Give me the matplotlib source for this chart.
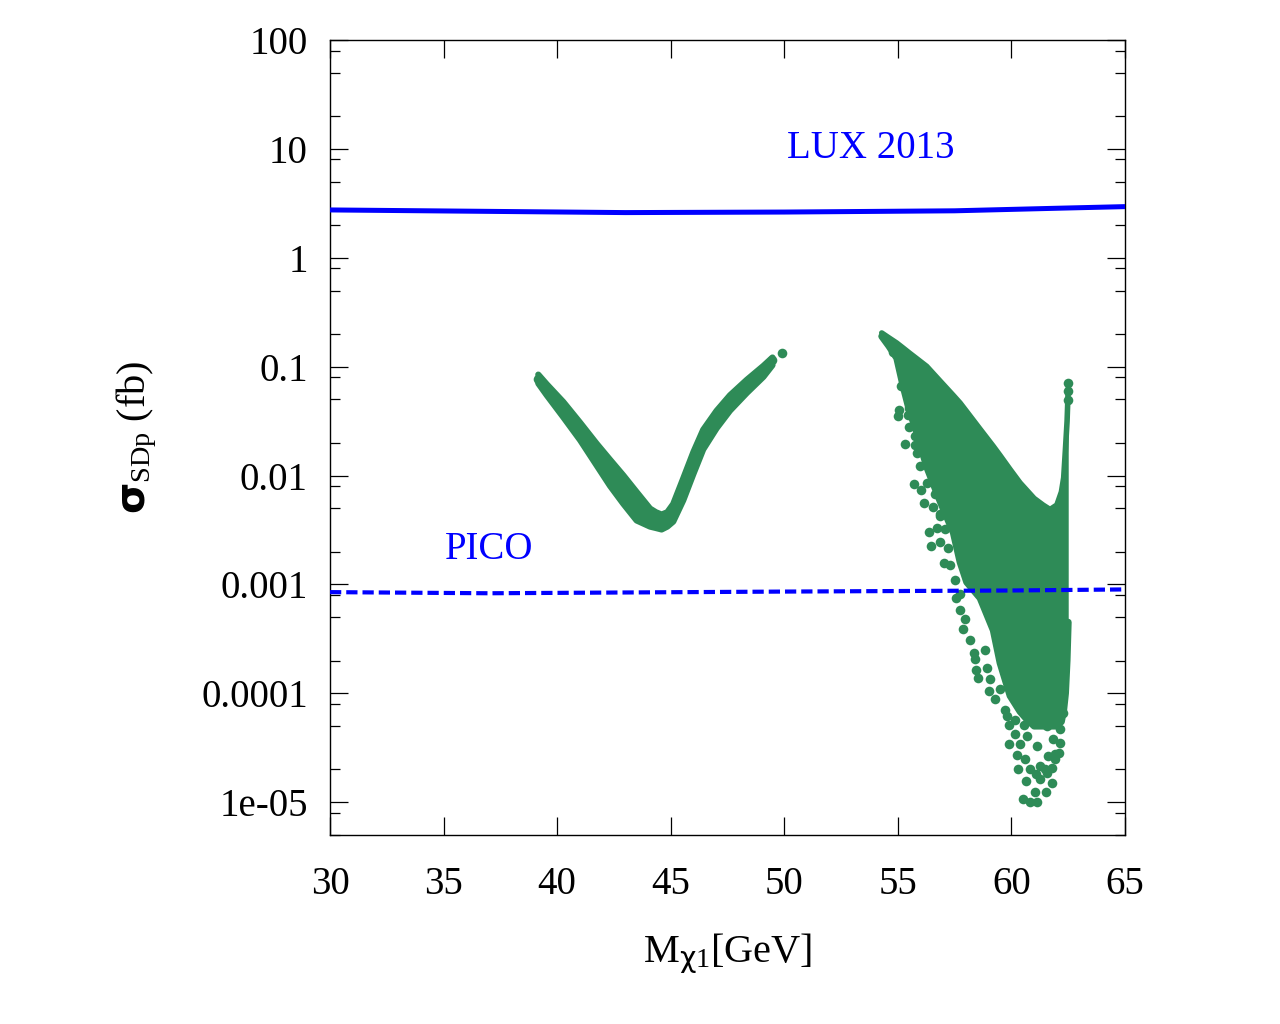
import numpy as np
import matplotlib
matplotlib.use("Agg")
import matplotlib.pyplot as plt
from matplotlib.ticker import LogLocator, NullFormatter, FixedLocator

plt.rcParams['font.family'] = ['Liberation Serif', 'DejaVu Serif']
plt.rcParams['mathtext.fontset'] = 'custom'
plt.rcParams['mathtext.rm'] = 'Liberation Serif'
plt.rcParams['mathtext.it'] = 'Liberation Serif:italic'
plt.rcParams['mathtext.bf'] = 'DejaVu Sans:bold'
plt.rcParams['mathtext.sf'] = 'DejaVu Sans'

GREEN = '#2e8b57'
BLUE = '#0000ff'

# ---- limit curves ----
lux_x = [30, 43, 50, 57.5, 62, 65]
lux_y = [2.75, 2.6, 2.63, 2.7, 2.85, 2.95]

pico_x = [30, 37, 50, 60, 65]
pico_y = [8.5e-4, 8.3e-4, 8.6e-4, 8.8e-4, 9.0e-4]

# ---- V-shaped band (Z-funnel branch) ----
v_x  = [39.17, 39.54, 40.27, 41.01, 41.74, 42.33, 42.91, 43.50, 44.09, 44.35, 44.60, 44.85, 45.11,
        45.55, 46.00, 46.43, 47.02, 47.61, 48.35, 49.08, 49.48]
v_lo = [0.0703, 0.0548, 0.0344, 0.0212, 0.0124, 0.00804, 0.00552, 0.00387, 0.0034, 0.0033, 0.0032, 0.0034, 0.00378,
        0.00592, 0.01038, 0.0174, 0.0272, 0.0395, 0.0574, 0.0807, 0.1033]
v_hi = [0.0845, 0.069, 0.0474, 0.0306, 0.0196, 0.01396, 0.01005, 0.00705, 0.00497, 0.0046, 0.00438, 0.0046, 0.00547,
        0.00938, 0.01644, 0.0263, 0.0393, 0.0546, 0.0757, 0.1016, 0.1213]
v_pts_x = [39.17, 49.91, 49.48]
v_pts_y = [0.077, 0.133, 0.114]

# ---- dense cloud (Higgs-funnel branch) ----
c_x  = [54.29, 54.6, 54.95, 55.24, 55.5, 55.83, 56.27, 56.86, 57.44, 57.74, 58.03, 58.62, 59.2,
        59.5, 59.94, 60.38, 60.67, 61.0, 61.4, 61.7, 62.0, 62.2, 62.3, 62.38, 62.45, 62.5]
c_hi = [0.204, 0.1845, 0.165, 0.148, 0.134, 0.1186, 0.1007, 0.0738, 0.0545, 0.0464, 0.0387, 0.0267, 0.0186,
        0.0153, 0.0114, 0.00857, 0.00735, 0.00617, 0.00535, 0.00488, 0.00537, 0.00708, 0.00955, 0.0178, 0.0316, 0.063]
c_lo = [0.19, 0.155, 0.12, 0.065, 0.040, 0.025, 0.0120, 0.0058, 0.0030, 0.0016, 0.00105, 7.5e-4, 3.8e-4,
        1.9e-4, 9.5e-5, 6.8e-5, 5.8e-5, 5.0e-5, 5.0e-5, 5.0e-5, 5.0e-5, 5.5e-5, 7.0e-5, 1.0e-4, 2.0e-4, 4.5e-4]

# scattered points around the cloud
s_x = [54.80, 55.13, 55.50, 55.06, 54.99, 55.50, 55.76, 55.31, 55.83, 55.97, 55.72, 56.16, 56.53, 56.38,
       56.74, 56.46, 56.87, 57.03, 56.86, 56.27,
       57.56, 57.75, 57.88, 58.37, 58.44, 58.54, 59.03, 58.91, 59.79, 59.91, 60.16, 60.55, 59.91, 60.26,
       60.30, 60.64, 61.08, 61.04, 60.52, 60.82, 61.11, 61.52, 61.80, 61.80, 62.14, 62.26, 62.28,
       61.26, 61.62, 61.92, 61.11, 60.67, 61.55, 61.99, 61.85, 61.55, 62.10,
       62.51, 62.50, 62.49,
       55.23, 55.63, 55.45, 55.97, 55.75, 56.20, 56.42, 56.02, 56.64, 56.86, 57.08, 57.21, 57.30, 57.52,
       57.74, 57.96, 58.18, 58.40, 58.84, 59.06, 59.28, 59.50, 59.72, 60.16, 60.38, 60.60, 60.82, 61.26,
       61.48, 61.92, 62.14, 62.23]
s_y = [0.136, 0.067, 0.042, 0.040, 0.0353, 0.028, 0.023, 0.0195, 0.0162, 0.0122, 0.0084, 0.0056, 0.00516, 0.00304,
       0.00331, 0.00225, 0.00244, 0.00158, 0.00423, 0.00857,
       7.55e-4, 5.8e-4, 3.9e-4, 2.36e-4, 1.63e-4, 1.39e-4, 1.04e-4, 1.72e-4, 6.2e-5, 5.1e-5, 5.65e-5, 5.1e-5, 3.46e-5, 2.74e-5,
       2.0e-5, 1.58e-5, 1.82e-5, 1.23e-5, 1.07e-5, 1.0e-5, 1.0e-5, 1.23e-5, 1.5e-5, 2.08e-5, 3.53e-5, 6.65e-5, 1.17e-4,
       2.15e-5, 2.66e-5, 2.5e-5, 3.3e-5, 4.06e-5, 5.0e-5, 5.8e-5, 3.8e-5, 1.87e-5, 2.86e-5,
       0.0708, 0.0593, 0.0498,
       0.0684, 0.052, 0.0363, 0.0264, 0.0192, 0.0156, 0.01135, 0.00744, 0.0067, 0.00439, 0.0032, 0.00218, 0.00152, 0.00111,
       8.1e-4, 4.8e-4, 3.1e-4, 2.05e-4, 2.5e-4, 1.34e-4, 8.8e-5, 1.09e-4, 7.1e-5, 4.2e-5, 3.4e-5, 2.5e-5, 2.0e-5, 1.63e-5,
       2.0e-5, 2.75e-5, 4.7e-5, 8.8e-5]

xticks = [30, 35, 40, 45, 50, 55, 60, 65]
yticks = [1e-5, 1e-4, 1e-3, 1e-2, 0.1, 1, 10, 100]
yticklabels = ['1e-05', '0.0001', '0.001', '0.01', '0.1', '1', '10', '100']

fig = plt.figure(figsize=(12.8, 10.24), dpi=100)
ax = fig.add_axes([330/1280, 1 - 835/1024, 795/1280, 795/1024])
ax.set_yscale('log')
ax.set_xlim(30, 65)
ax.set_ylim(5e-6, 100)

MS = 48
# V band
ax.fill_between(v_x, v_lo, v_hi, color=GREEN, lw=0, zorder=2)
ax.plot(v_x, v_lo, color=GREEN, lw=4.5, solid_capstyle='round', solid_joinstyle='round', zorder=2)
ax.plot(v_x, v_hi, color=GREEN, lw=4.5, solid_capstyle='round', solid_joinstyle='round', zorder=2)
ax.scatter(v_pts_x, v_pts_y, s=MS, color=GREEN, lw=0, zorder=2)

# cloud
ax.fill_between(c_x, c_lo, c_hi, color=GREEN, lw=0, zorder=2)
ax.plot(c_x, c_lo, color=GREEN, lw=5, solid_capstyle='round', solid_joinstyle='round', zorder=2)
ax.plot(c_x, c_hi, color=GREEN, lw=4, solid_capstyle='round', solid_joinstyle='round', zorder=2)
ax.scatter(s_x, s_y, s=MS, color=GREEN, lw=0, zorder=2)

# limits
ax.plot(lux_x, lux_y, color=BLUE, lw=3.6, zorder=3)
ax.plot(pico_x, pico_y, color=BLUE, lw=3, dashes=(2.7, 1.2), zorder=3)

ax.text(53.8, 10, 'LUX 2013', color=BLUE, fontsize=28, ha='center', va='center')
ax.text(37.0, 2.1e-3, 'PICO', color=BLUE, fontsize=28, ha='center', va='center')

ax.xaxis.set_major_locator(FixedLocator(xticks))
ax.set_xticklabels([str(t) for t in xticks])
ax.yaxis.set_major_locator(FixedLocator(yticks))
ax.set_yticklabels(yticklabels)
ax.yaxis.set_minor_locator(LogLocator(base=10, subs=[2, 5, 8], numticks=20))
ax.yaxis.set_minor_formatter(NullFormatter())

ax.tick_params(which='both', direction='in', top=True, right=True, width=0.9, labelsize=28)
ax.tick_params(which='major', length=13)
ax.tick_params(which='minor', length=7)
ax.tick_params(axis='x', pad=22)
ax.tick_params(axis='y', pad=16)
for sp in ax.spines.values():
    sp.set_linewidth(1.0)

ax.set_xlabel(r'$\mathrm{M}_{\mathsf{\chi}\mathrm{1}}$[GeV]', fontsize=29)
ax.set_ylabel(r'$\mathbf{\sigma}_{\mathrm{SDp}}$ (fb)', fontsize=29)
ax.xaxis.set_label_coords(0.5, -0.122)
ax.yaxis.set_label_coords(-0.215, 0.5)

fig.savefig('out.png', dpi=100)
